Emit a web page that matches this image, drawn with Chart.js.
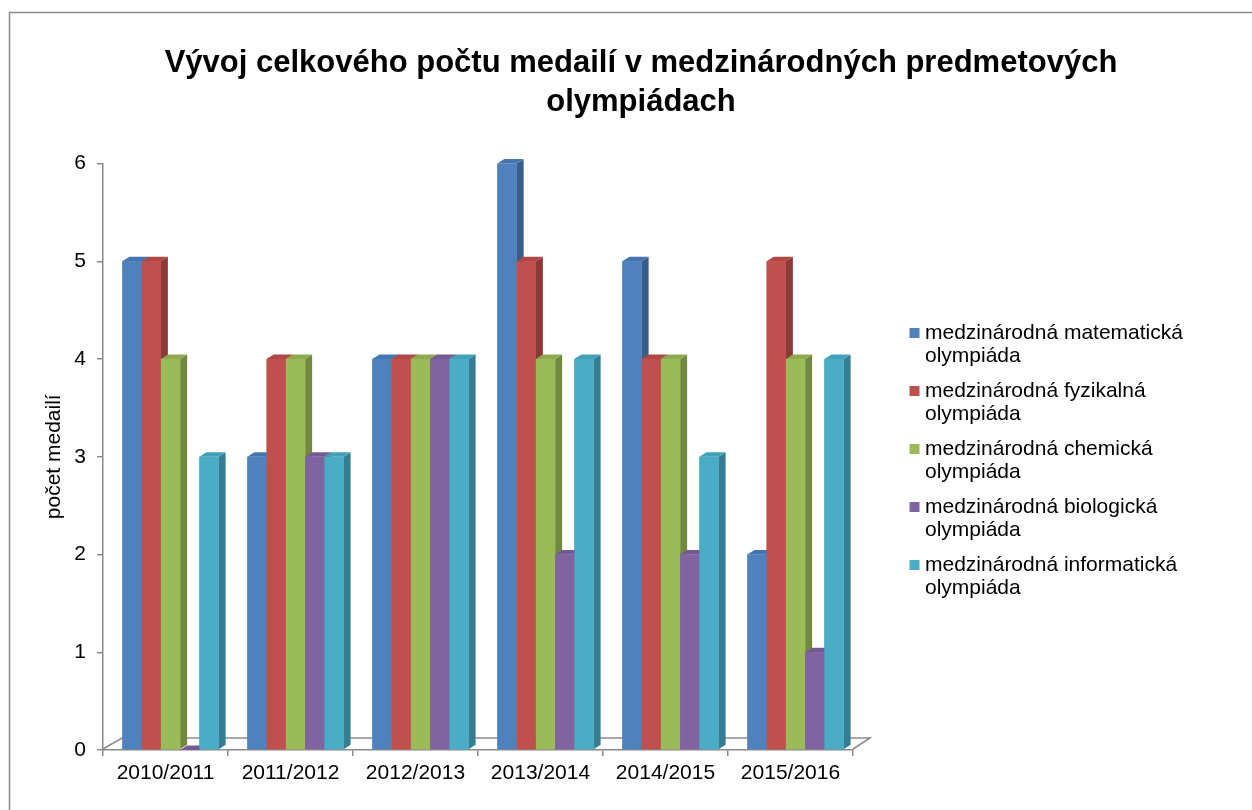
<!DOCTYPE html>
<html>
<head>
<meta charset="utf-8">
<script src="https://cdn.jsdelivr.net/npm/chart.js@4.4.1/dist/chart.umd.min.js"></script>
<style>
  html, body { margin: 0; padding: 0; background: #fff; }
  #wrap { width: 1252px; height: 810px; }
</style>
</head>
<body>
<div id="wrap"><canvas id="barChart"></canvas></div>
<script>
// data
const years = ["2010/2011", "2011/2012", "2012/2013", "2013/2014", "2014/2015", "2015/2016"];
const seriesNames = [
  "medzinárodná matematická olympiáda",
  "medzinárodná fyzikalná olympiáda",
  "medzinárodná chemická olympiáda",
  "medzinárodná biologická olympiáda",
  "medzinárodná informatická olympiáda"
];
const matematika = [5, 3, 4, 6, 5, 2];
const fyzika = [5, 4, 4, 5, 4, 5];
const chemia = [4, 4, 4, 4, 4, 4];
const biologia = [0, 3, 4, 2, 2, 1];
const informatika = [3, 3, 4, 4, 3, 4];
const yTicks = [0, 1, 2, 3, 4, 5, 6];

const frontColors = ["#4F81BD", "#C0504D", "#9BBB59", "#8064A2", "#4BACC6"];
const sideColors = ["#385D8A", "#8C3A38", "#71893F", "#5C4876", "#357E92"];
const topColors = ["#4575B0", "#AE4745", "#8CAA4F", "#735A93", "#42A0B9"];

const FONT = "'Liberation Sans', Arial, sans-serif";
const DX = 7, DY = 4.5, SHIFT = 5;

// grey frame of the chart (only top and left edges are in view)
const frame = {
  id: "frame",
  beforeDraw(chart) {
    const ctx = chart.ctx;
    ctx.save();
    ctx.fillStyle = "#fff";
    ctx.fillRect(0, 0, chart.width, chart.height);
    ctx.strokeStyle = "#8a8a8a";
    ctx.lineWidth = 1.5;
    ctx.beginPath();
    ctx.moveTo(9.5, chart.height);
    ctx.lineTo(9.5, 12.5);
    ctx.lineTo(chart.width, 12.5);
    ctx.stroke();
    ctx.restore();
  }
};

// floor + fake 3d faces of the columns
const bars3d = {
  id: "bars3d",
  beforeDatasetsDraw(chart) {
    const ctx = chart.ctx;
    const a = chart.chartArea;
    ctx.save();
    ctx.strokeStyle = "#8a8a8a";
    ctx.lineWidth = 1.5;
    ctx.beginPath();
    ctx.moveTo(a.left, a.bottom - 1);
    ctx.lineTo(a.left + 19, a.bottom - 12);
    ctx.lineTo(a.right + 17, a.bottom - 12);
    ctx.lineTo(a.right, a.bottom - 1);
    ctx.stroke();
    ctx.restore();
    ctx.save();
    ctx.translate(SHIFT, 0);
  },
  afterDatasetsDraw(chart) {
    const ctx = chart.ctx;
    chart.data.datasets.forEach((ds, i) => {
      const meta = chart.getDatasetMeta(i);
      meta.data.forEach((bar) => {
        const p = bar.getProps(["x", "y", "base", "width"], true);
        const l = p.x - p.width / 2, r = p.x + p.width / 2;
        ctx.fillStyle = sideColors[i];
        ctx.beginPath();
        ctx.moveTo(r, p.y);
        ctx.lineTo(r + DX, p.y - DY);
        ctx.lineTo(r + DX, p.base - DY);
        ctx.lineTo(r, p.base);
        ctx.closePath();
        ctx.fill();
        ctx.fillStyle = topColors[i];
        ctx.beginPath();
        ctx.moveTo(l, p.y);
        ctx.lineTo(l + DX, p.y - DY);
        ctx.lineTo(r + DX, p.y - DY);
        ctx.lineTo(r, p.y);
        ctx.closePath();
        ctx.fill();
        bar.draw(ctx);
      });
    });
    ctx.restore();
  }
};

// legend with two-line labels, placed like in the original
const sideLegend = {
  id: "sideLegend",
  afterDraw(chart) {
    const ctx = chart.ctx;
    ctx.save();
    ctx.font = "21px " + FONT;
    ctx.textBaseline = "middle";
    ctx.textAlign = "left";
    chart.data.datasets.forEach((ds, i) => {
      const y = 333 + i * 58;
      ctx.fillStyle = frontColors[i];
      ctx.fillRect(909.5, y - 5, 10, 10);
      ctx.fillStyle = "#000";
      const lines = [ds.label.replace(" olympiáda", ""), "olympiáda"];
      lines.forEach((t, k) => ctx.fillText(t, 925, y + k * 23));
    });
    ctx.restore();
  }
};

const ctx1 = document.getElementById("barChart").getContext("2d");
new Chart(ctx1, {
  type: "bar",
  data: {
    labels: years,
    datasets: [matematika, fyzika, chemia, biologia, informatika].map((d, i) => ({
      label: seriesNames[i],
      data: d,
      backgroundColor: frontColors[i],
      borderWidth: 0,
      barPercentage: 1,
      categoryPercentage: 0.77
    }))
  },
  options: {
    responsive: true,
    maintainAspectRatio: false,
    animation: false,
    layout: { padding: { left: 30, right: 0, top: 0, bottom: 0 } },
    plugins: {
      legend: { display: false },
      tooltip: { enabled: false },
      title: {
        display: true,
        text: ["Vývoj celkového počtu medailí v medzinárodných predmetových", "olympiádach"],
        color: "#000",
        font: { family: FONT, size: 31, weight: "bold", lineHeight: 1.25 },
        padding: { top: 44, bottom: 42 }
      }
    },
    scales: {
      x: {
        grid: { offset: true, drawOnChartArea: false, drawTicks: true, tickLength: 6, color: "#8a8a8a", lineWidth: 1.5 },
        border: { display: true, color: "#8a8a8a", width: 1.5 },
        ticks: { color: "#000", font: { family: FONT, size: 21 }, padding: 5, maxRotation: 0 },
        afterFit: (s) => { s.height = 60; }
      },
      y: {
        min: 0,
        max: 6,
        afterBuildTicks: (s) => { s.ticks = yTicks.map((v) => ({ value: v })); },
        grid: { drawOnChartArea: false, drawTicks: true, tickLength: 6, color: "#8a8a8a", lineWidth: 1.5 },
        border: { display: true, color: "#8a8a8a", width: 1.5 },
        ticks: { color: "#000", font: { family: FONT, size: 21 }, padding: 11 },
        title: {
          display: true,
          text: "počet medailí",
          color: "#000",
          font: { family: FONT, size: 21 },
          padding: { top: 12, bottom: 0 }
        },
        afterFit: (s) => { s.width = 73; }
      },
      legendSpace: {
        type: "linear",
        position: "right",
        display: true,
        grid: { display: false },
        border: { display: false },
        ticks: { display: false },
        afterFit: (s) => { s.width = 399; }
      }
    }
  },
  plugins: [frame, bars3d, sideLegend]
});
</script>
</body>
</html>
